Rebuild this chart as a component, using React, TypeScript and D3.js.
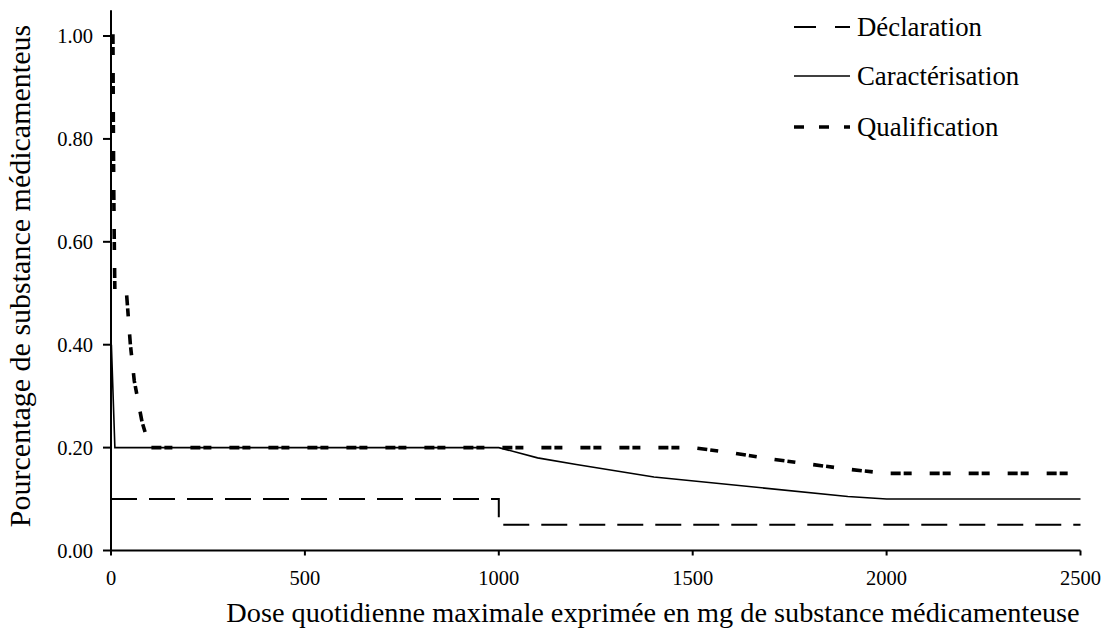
import React from "react";
import * as d3 from "d3";

const xTicks = [0, 500, 1000, 1500, 2000, 2500];
const yTicks = [0, 0.2, 0.4, 0.6, 0.8, 1.0];

const declX = [0, 1000, 1000, 2500];
const declY = [0.1, 0.1, 0.05, 0.05];

const caracX = [1, 10, 1000, 1100, 1200, 1400, 1900, 2000, 2500];
const caracY = [0.4, 0.2, 0.2, 0.18, 0.167, 0.143, 0.105, 0.1, 0.1];

const qualX = [0, 5, 6, 7, 8, 10, 40, 50, 60, 70, 80, 100, 1500, 1600, 1700, 1800, 1900, 2000, 2500];
const qualY = [1.0, 1.0, 0.83, 0.71, 0.63, 0.5, 0.5, 0.4, 0.33, 0.29, 0.25, 0.2, 0.2, 0.19, 0.178, 0.168, 0.158, 0.15, 0.15];

const seriesNames = ["Déclaration", "Caractérisation", "Qualification"];

const W = 1106;
const H = 642;

export default function App() {
  const x = d3.scaleLinear().domain([0, 2500]).range([111, 1080.5]);
  const y = d3.scaleLinear().domain([0, 1.05]).range([550.5, 10.3]);
  const line = d3
    .line<[number, number]>()
    .x((d) => x(d[0]))
    .y((d) => y(d[1]));
  const zip = (a: number[], b: number[]) => a.map((v, i) => [v, b[i]] as [number, number]);

  const font = "'Liberation Serif', 'Times New Roman', serif";
  const styles = [
    { dash: "26,12", width: 2, legendDash: "22,19" },
    { dash: "", width: 1.6, legendDash: "" },
    { dash: "10,3,8,18", width: 3.6, legendDash: "10,15" },
  ];
  const data = [zip(declX, declY), zip(caracX, caracY), zip(qualX, qualY)];
  const legendY = [27, 76, 127];

  return (
    <svg
      width={W}
      height={H}
      style={{ position: "absolute", left: 0, top: 0, background: "#fff" }}
      fontFamily={font}
    >
      {data.map((d, i) => (
        <path
          key={i}
          d={line(d) || ""}
          fill="none"
          stroke="#000"
          strokeWidth={styles[i].width}
          strokeDasharray={styles[i].dash || undefined}
        />
      ))}
      <line x1={x(0)} x2={x(0)} y1={y(1.05)} y2={y(0)} stroke="#000" strokeWidth={2} />
      <line x1={x(0)} x2={x(2500)} y1={y(0)} y2={y(0)} stroke="#000" strokeWidth={2} />
      {yTicks.map((t) => (
        <g key={"y" + t}>
          <line x1={x(0) - 8} x2={x(0)} y1={y(t)} y2={y(t)} stroke="#000" strokeWidth={2} />
          <text x={93} y={y(t) + 7} textAnchor="end" fontSize={20.5}>
            {t.toFixed(2)}
          </text>
        </g>
      ))}
      {xTicks.map((t) => (
        <g key={"x" + t}>
          <line x1={x(t)} x2={x(t)} y1={y(0)} y2={y(0) + 5} stroke="#000" strokeWidth={2} />
          <text x={x(t)} y={585} textAnchor="middle" fontSize={20.5}>
            {t}
          </text>
        </g>
      ))}
      <text x={653} y={622} textAnchor="middle" fontSize={28.3}>
        Dose quotidienne maximale exprimée en mg de substance médicamenteuse
      </text>
      <text transform={`translate(30,276) rotate(-90)`} textAnchor="middle" fontSize={30}>
        Pourcentage de substance médicamenteus
      </text>
      {seriesNames.map((n, i) => (
        <g key={n}>
          <line
            x1={794}
            x2={850}
            y1={legendY[i]}
            y2={legendY[i]}
            stroke="#000"
            strokeWidth={styles[i].width}
            strokeDasharray={styles[i].legendDash || undefined}
          />
          <text x={857} y={legendY[i] + 9} fontSize={26.8}>
            {n}
          </text>
        </g>
      ))}
    </svg>
  );
}
